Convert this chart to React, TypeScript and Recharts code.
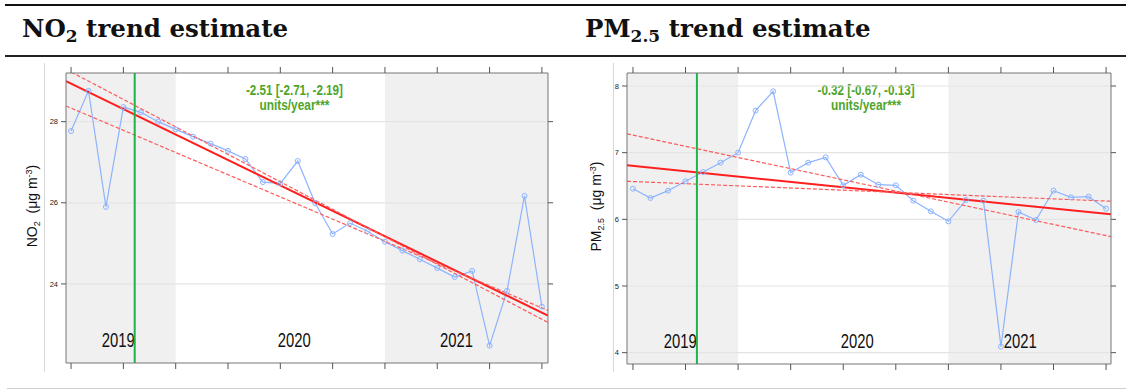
"use client";

import { ComposedChart, Line, XAxis, YAxis, ReferenceArea, ReferenceLine } from "recharts";

// Monthly means, Jul 2019 - Oct 2021 (index 0 = first month)
const months = [
  "2019-07", "2019-08", "2019-09", "2019-10", "2019-11", "2019-12",
  "2020-01", "2020-02", "2020-03", "2020-04", "2020-05", "2020-06",
  "2020-07", "2020-08", "2020-09", "2020-10", "2020-11", "2020-12",
  "2021-01", "2021-02", "2021-03", "2021-04", "2021-05", "2021-06",
  "2021-07", "2021-08", "2021-09", "2021-10",
];

const no2Values = [
  27.77, 28.76, 25.9, 28.36, 28.23, 28.0, 27.81, 27.63, 27.46, 27.28,
  27.08, 26.51, 26.48, 27.03, 25.99, 25.23, 25.5, 25.3, 25.04, 24.82,
  24.61, 24.39, 24.17, 24.32, 22.48, 23.83, 26.17, 23.44,
];

const pm25Values = [
  6.46, 6.32, 6.43, 6.57, 6.71, 6.85, 7.0, 7.63, 7.92, 6.7,
  6.85, 6.93, 6.51, 6.67, 6.52, 6.51, 6.28, 6.12, 5.97, 6.29,
  6.28, 4.09, 6.11, 5.99, 6.43, 6.33, 6.34, 6.16,
];

// Theil-Sen slope (units/year) and its 95% interval, with the fitted value at the first month
const no2Slopes = [-2.51, -2.71, -2.19];
const no2Starts = [28.94, 29.226, 28.335];
const pm25Slopes = [-0.32, -0.67, -0.13];
const pm25Starts = [6.802, 7.263, 6.567];

const years = ["2019", "2020", "2021"];
const yearLabelAt = [2.7, 12.8, 22.1];
const eventMonth = 3.65;

const xTicks = [0, 3, 6, 9, 12, 15, 18, 21, 24, 27];
const no2Ticks = [24, 26, 28];
const pm25Ticks = [4, 5, 6, 7, 8];

const FONT = "'Liberation Sans', Arial, sans-serif";
const BLUE = "#8db3ff";
const RED = "#ff1f1f";
const GREEN = "#1fb34c";
const TEXT_GREEN = "#4ea52a";
const SHADE = "#f0f0f0";

const toRows = (values: number[]) => values.map((v, i) => ({ m: i, month: months[i], v }));

const trendRows = (start: number, slope: number, xDomain: number[]) =>
  xDomain.map((m) => ({ m, v: start + (slope / 12) * m }));

const BlankTick = () => <g />;

const YearLabel = ({ viewBox, text }: any) => (
  <text
    x={viewBox.x}
    y={viewBox.y + viewBox.height - 16}
    textAnchor="middle"
    fontFamily={FONT}
    fontSize={20}
    textLength={33}
    lengthAdjust="spacingAndGlyphs"
    fill="#111"
  >
    {text}
  </text>
);

const SlopeLabel = ({ viewBox, slopes }: any) => {
  const cx = viewBox.x + viewBox.width / 2;
  const first = `${slopes[0].toFixed(2)} [${slopes[1].toFixed(2)}, ${slopes[2].toFixed(2)}]`;
  return (
    <g fontFamily={FONT} fontWeight="bold" fontSize={14} fill={TEXT_GREEN} textAnchor="middle">
      <text x={cx} y={viewBox.y + 22} textLength={97} lengthAdjust="spacingAndGlyphs">
        {first}
      </text>
      <text x={cx} y={viewBox.y + 37} textLength={70} lengthAdjust="spacingAndGlyphs">
        units/year***
      </text>
    </g>
  );
};

const AxisTitle = ({ viewBox, dx, name, sub }: any) => (
  <text
    transform={`translate(${viewBox.x + dx}, ${viewBox.y + viewBox.height / 2 - 12}) rotate(-90)`}
    textAnchor="middle"
    fontFamily={FONT}
    fontSize={14}
    fill="#111"
    style={{ whiteSpace: "pre" }}
  >
    {name}
    <tspan fontSize={9} dy={3}>{sub}</tspan>
    <tspan dy={-3}>{"  (μg m"}</tspan>
    <tspan fontSize={9} dy={-5}>-3</tspan>
    <tspan dy={5}>)</tspan>
  </text>
);

interface PanelProps {
  left: number;
  width: number;
  values: number[];
  starts: number[];
  slopes: number[];
  xDomain: number[];
  yDomain: number[];
  yTicks: number[];
  box: number[];
  margin: { top: number; right: number; bottom: number; left: number };
  name: string;
  sub: string;
  titleDx: number;
}

const Panel = ({ left, width, values, starts, slopes, xDomain, yDomain, yTicks, box, margin, name, sub, titleDx }: PanelProps) => (
  <div style={{ position: "absolute", left, top: 60 }}>
    <ComposedChart width={width} height={320} data={toRows(values)} margin={margin}>
      <XAxis
        type="number"
        dataKey="m"
        domain={xDomain}
        ticks={xTicks}
        interval={0}
        allowDataOverflow
        height={8}
        tickSize={6}
        tick={BlankTick}
        axisLine={{ stroke: "#777" }}
        tickLine={{ stroke: "#555" }}
      />
      <XAxis
        xAxisId="top"
        orientation="top"
        type="number"
        dataKey="m"
        domain={xDomain}
        ticks={xTicks}
        interval={0}
        allowDataOverflow
        height={7}
        tickSize={6}
        tick={BlankTick}
        axisLine={{ stroke: "#777" }}
        tickLine={{ stroke: "#555" }}
      />
      <YAxis
        type="number"
        domain={yDomain}
        ticks={yTicks}
        interval={0}
        allowDataOverflow
        width={22}
        tickSize={5}
        tickMargin={3}
        tick={{ fontSize: 7.5, fill: "#222", fontFamily: FONT }}
        axisLine={{ stroke: "#777" }}
        tickLine={{ stroke: "#555" }}
        label={{ content: (p: any) => <AxisTitle {...p} dx={titleDx} name={name} sub={sub} /> }}
      />
      <YAxis
        yAxisId="r"
        orientation="right"
        type="number"
        domain={yDomain}
        ticks={yTicks}
        interval={0}
        allowDataOverflow
        width={8}
        tickSize={5}
        tick={BlankTick}
        axisLine={{ stroke: "#777" }}
        tickLine={{ stroke: "#555" }}
      />

      {/* shaded alternate years */}
      <ReferenceArea x1={xDomain[0]} x2={6} fill={SHADE} fillOpacity={1} stroke="none" ifOverflow="hidden" />
      <ReferenceArea x1={18} x2={xDomain[1]} fill={SHADE} fillOpacity={1} stroke="none" ifOverflow="hidden" />

      {yTicks.map((t) => (
        <ReferenceLine key={t} y={t} stroke="#e4e4e4" strokeWidth={1.2} />
      ))}

      <ReferenceArea
        x1={box[0]}
        x2={box[1]}
        y1={box[2]}
        y2={yDomain[1]}
        fill="#fff"
        fillOpacity={1}
        stroke="none"
        ifOverflow="hidden"
        label={{ content: (p: any) => <SlopeLabel {...p} slopes={slopes} /> }}
      />

      <Line
        dataKey="v"
        stroke={BLUE}
        strokeWidth={1.2}
        dot={{ r: 2.5, stroke: BLUE, fill: "none", strokeWidth: 1 }}
        activeDot={false}
        isAnimationActive={false}
      />

      {starts.map((s, i) => (
        <Line
          key={i}
          data={trendRows(s, slopes[i], xDomain)}
          dataKey="v"
          stroke={i === 0 ? RED : "#ff5a5a"}
          strokeWidth={i === 0 ? 2 : 1.2}
          strokeDasharray={i === 0 ? undefined : "4 2"}
          dot={false}
          activeDot={false}
          isAnimationActive={false}
        />
      ))}

      {years.map((y, i) => (
        <ReferenceLine
          key={y}
          x={yearLabelAt[i]}
          stroke="none"
          label={{ content: (p: any) => <YearLabel {...p} text={y} /> }}
        />
      ))}

      <ReferenceLine x={eventMonth} stroke={GREEN} strokeWidth={2} />
    </ComposedChart>
  </div>
);

const titleStyle: React.CSSProperties = {
  position: "absolute",
  top: 16,
  fontFamily: "'DejaVu Serif', serif",
  fontWeight: "bold",
  fontSize: 24.5,
  lineHeight: "25px",
  color: "#111",
  whiteSpace: "nowrap",
};

const subStyle: React.CSSProperties = { fontSize: 17, verticalAlign: "-5px", lineHeight: 0 };

export default function App() {
  return (
    <div style={{ position: "absolute", left: 0, top: 0, width: 1126, height: 389, background: "#fff", overflow: "hidden" }}>
      <div style={{ position: "absolute", left: 5, top: 4, width: 1121, height: 2, background: "#111" }} />
      <div style={{ position: "absolute", left: 5, top: 55, width: 1121, height: 1.5, background: "#222" }} />
      <div style={{ position: "absolute", left: 7, top: 388, width: 1119, height: 1, background: "#cfcfcf" }} />
      <div style={{ position: "absolute", left: 44, top: 63, width: 1, height: 309, background: "#d8d8d8" }} />
      <div style={{ position: "absolute", left: 613, top: 63, width: 1, height: 309, background: "#d8d8d8" }} />

      <div style={{ ...titleStyle, left: 22 }}>
        NO<span style={subStyle}>2</span> trend estimate
      </div>
      <div style={{ ...titleStyle, left: 585 }}>
        PM<span style={subStyle}>2.5</span> trend estimate
      </div>

      <Panel
        left={0}
        width={560}
        values={no2Values}
        starts={no2Starts}
        slopes={no2Slopes}
        xDomain={[-0.29, 27.35]}
        yDomain={[22.05, 29.2]}
        yTicks={no2Ticks}
        box={[8.57, 17.05, 28.17]}
        margin={{ top: 6, right: 4, bottom: 9, left: 44 }}
        name="NO"
        sub="2"
        titleDx={-7.5}
      />
      <Panel
        left={560}
        width={566}
        values={pm25Values}
        starts={pm25Starts}
        slopes={pm25Slopes}
        xDomain={[-0.34, 27.28]}
        yDomain={[3.83, 8.195]}
        yTicks={pm25Ticks}
        box={[9.08, 17.52, 7.565]}
        margin={{ top: 6, right: 7, bottom: 8, left: 45 }}
        name="PM"
        sub="2.5"
        titleDx={-4}
      />
    </div>
  );
}
